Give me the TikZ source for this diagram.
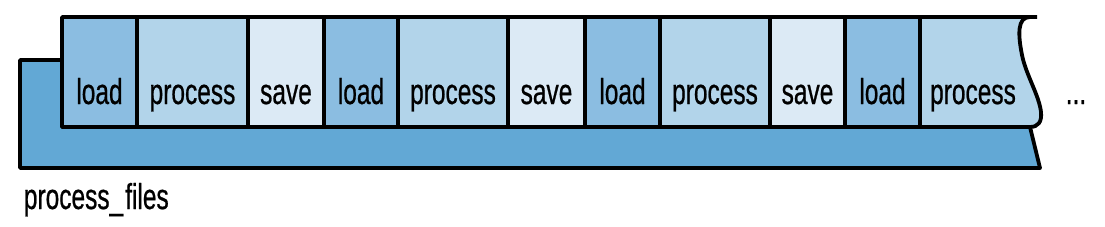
\documentclass[tikz,border=0pt]{standalone}
\usepackage{fontspec}
\setmainfont[FakeStretch=0.68,FakeBold=0.6]{Liberation Sans}
\definecolor{basec}{RGB}{98,168,213}
\definecolor{loadc}{RGB}{139,189,225}
\definecolor{procc}{RGB}{178,212,234}
\definecolor{savec}{RGB}{220,234,245}
\begin{document}
\begin{tikzpicture}[x=1pt,y=-1pt,line width=3.8pt,line join=round,
  lbl/.style={anchor=base,inner sep=0pt,font=\fontsize{36}{40}\selectfont}]
\useasboundingbox (0,0) rectangle (1105,226);
% base (process_files)
\filldraw[fill=basec] (20,60) -- (62,60) -- (62,127) -- (1030,127) -- (1040,168) -- (20,168) -- cycle;
% cells
\foreach \a/\b/\c/\t [count=\i] in {62/137/loadc/load,137/248/procc/process,248/324/savec/save,324/398/loadc/load,398/508/procc/process,508/585/savec/save,585/660/loadc/load,660/770/procc/process,770/845/savec/save,845/920/loadc/load}{
  \fill[\c] (\a,17) rectangle (\b,127);
  \node[lbl] (c\i) at ({(\a+\b)/2},104) {\t};
}
\fill[procc] (920,17) -- (1030,17) .. controls (1017,17) and (1018,35) .. (1022,55)
  .. controls (1026,75) and (1039,95) .. (1041,112)
  .. controls (1042,122) and (1038,127) .. (1030,127) -- (920,127) -- cycle;
\node[lbl] (c11) at (973,104) {process};
% dividers
\foreach \x in {137,248,324,398,508,585,660,770,845,920}{
  \draw (\x,17) -- (\x,127);
}
% row outline
\draw (1037,17) -- (62,17) -- (62,127) -- (1030,127)
  .. controls (1038,127) and (1042,122) .. (1041,112)
  .. controls (1039,95) and (1026,75) .. (1022,55)
  .. controls (1018,35) and (1017,17) .. (1030,17);
\node[lbl] (dots) at (1076,104) {...};
\node[lbl,anchor=base west] (pf) at (22,209) {process\_\kern2pt files};
\end{tikzpicture}
\end{document}
